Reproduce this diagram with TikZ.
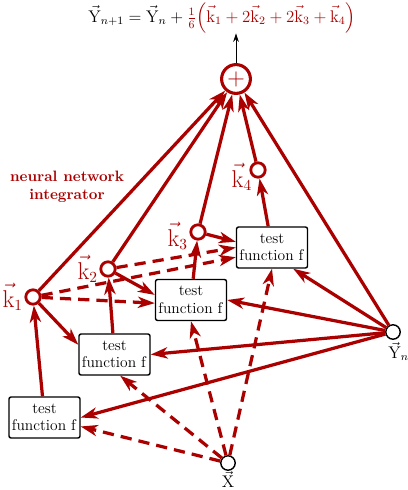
\documentclass[tikz,border=0pt]{standalone}
\usepackage{amsmath}
\usepackage{tikz}
\usetikzlibrary{positioning}
\usetikzlibrary{arrows.meta}
\definecolor{nnred}{RGB}{170,0,0}

\begin{document}
\begin{tikzpicture}[x=0.025cm, y=-0.025cm,
    knode/.style={circle, draw=nnred, line width=2pt, fill=white, minimum size=0.36cm, inner sep=0pt},
    vnode/.style={circle, draw=black, line width=1pt, fill=white, minimum size=0.36cm, inner sep=0pt},
    sumnode/.style={circle, draw=nnred, line width=2.2pt, fill=white, minimum size=0.72cm, inner sep=0pt, text=nnred, font=\LARGE},
    fbox/.style={draw=black, line width=1pt, rounded corners=1.5pt, fill=white, align=center, minimum width=1.775cm, minimum height=1.025cm, inner sep=1pt, font=\fontsize{11}{12.5}\selectfont},
    klabel/.style={text=nnred, font=\fontsize{16}{18}\selectfont, inner sep=1pt},
    flow/.style={draw=nnred, line width=2.3pt, -{Stealth[length=12pt, width=8pt, inset=3.5pt]}},
    flowd/.style={flow, dash pattern=on 8pt off 5pt}]
    \useasboundingbox (0,0) rectangle (407,490);

    \node(fml) at (222,18) [inner sep=0pt, font=\large] {$\vec{\mathrm{Y}}_{n+1}=\vec{\mathrm{Y}}_n+{\color{nnred}\tfrac{1}{6}\Big(\vec{\mathrm{k}}_1+2\vec{\mathrm{k}}_2+2\vec{\mathrm{k}}_3+\vec{\mathrm{k}}_4\Big)}$};
    \node[sumnode](sum) at (236,79) {$+$};

    \node[knode](k1) at (33,297) {};
    \node[knode](k2) at (108,269) {};
    \node[knode](k3) at (198,232) {};
    \node[knode](k4) at (258,170) {};
    \node[klabel](k1l) [left=0pt of k1] {$\vec{\mathrm{k}}_1$};
    \node[klabel](k2l) [left=0pt of k2] {$\vec{\mathrm{k}}_2$};
    \node[klabel](k3l) [left=0pt of k3, yshift=-3pt] {$\vec{\mathrm{k}}_3$};
    \node[klabel](k4l) [left=-3pt of k4, yshift=-5pt] {$\vec{\mathrm{k}}_4$};

    \node[fbox](f1) at (44.5,417.5) {test\\function $\mathrm{f}$};
    \node[fbox](f2) at (114.5,354.5) {test\\function $\mathrm{f}$};
    \node[fbox](f3) at (191,300) {test\\function $\mathrm{f}$};
    \node[fbox](f4) at (272,247.5) {test\\function $\mathrm{f}$};

    \node[vnode](yn) at (393,332) {};
    \node[vnode](x) at (228,463) {};
    \node(ynl) [below=-2pt of yn, xshift=4pt, font=\large] {$\vec{\mathrm{Y}}_n$};
    \node(xl) [below=-3pt of x, font=\large] {$\vec{\mathrm{X}}$};

    \node(nn) at (67,187) [text=nnred, font=\fontsize{10.7}{12.5}\selectfont\bfseries, align=center] {neural network\\integrator};

    \draw[-{Stealth[length=6pt, width=4pt]}, line width=0.6pt] (sum) -- (sum |- fml.south);

    \draw[flow](k1) -- (sum);
    \draw[flow](k2) -- (sum);
    \draw[flow](k3) -- (sum);
    \draw[flow](k4) -- (sum);
    \draw[flow](yn) -- (sum);

    \draw[flow](f1) -- (k1);
    \draw[flow](f2) -- (k2);
    \draw[flow](f3) -- (k3);
    \draw[flow](f4) -- (k4);

    \draw[flow](k1) -- (f2.165);
    \draw[flow](k2) -- (f3.172);
    \draw[flow](k3) -- (f4.171);
    \draw[flowd](k1) -- (f3.185);
    \draw[flowd](k1) -- (f4.195);
    \draw[flowd](k2) -- (f4.180);

    \draw[flow](yn) -- (f1.east);
    \draw[flow](yn) -- (f2.east);
    \draw[flow](yn) -- (f3.east);
    \draw[flow](yn) -- (f4.-45);

    \draw[flowd](x) -- (f1);
    \draw[flowd](x) -- (f2.-75);
    \draw[flowd](x) -- (f3.south);
    \draw[flowd](x) -- (f4.south);
\end{tikzpicture}
\end{document}
